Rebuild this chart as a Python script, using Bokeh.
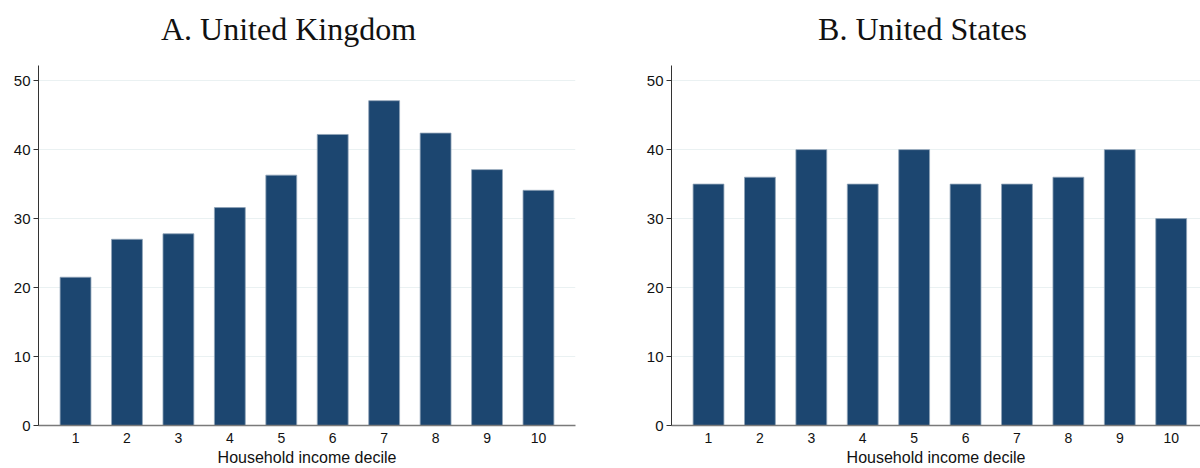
from bokeh.plotting import figure
from bokeh.layouts import row, column
from bokeh.models import FixedTicker, Range1d, ColumnDataSource
from bokeh.core.properties import value
from bokeh.embed import file_html
from bokeh.resources import INLINE

deciles = [1, 2, 3, 4, 5, 6, 7, 8, 9, 10]
uk_values = [21.5, 27.0, 27.8, 31.6, 36.3, 42.2, 47.1, 42.4, 37.1, 34.1]
us_values = [35, 36, 40, 35, 40, 35, 35, 36, 40, 30]
y_ticks = [0, 10, 20, 30, 40, 50]
titles = ["A. United Kingdom", "B. United States"]
x_label = "Household income decile"

BAR = "#1C4670"
GRID = "#EAF1F2"
TITLE_H = 65


def make_title(text, width, left_border, right_border, cx):
    frame_w = width - left_border - right_border
    t = figure(width=width, height=TITLE_H, output_backend="svg", toolbar_location=None,
               x_range=Range1d(0, frame_w), y_range=Range1d(0, TITLE_H),
               x_axis_location=None, y_axis_location=None,
               min_border_left=left_border, min_border_right=right_border,
               min_border_top=0, min_border_bottom=0)
    t.outline_line_color = None
    t.xgrid.visible = False
    t.ygrid.visible = False
    src = ColumnDataSource(dict(x=[cx], y=[TITLE_H - 28], text=[text]))
    t.text(x="x", y="y", text="text", source=src, text_align="center",
           text_baseline="middle", text_font=value("Liberation Serif"),
           text_font_size="32px", text_color="#111111")
    return t


def make(values, width, left_border, right_border, x_end):
    p = figure(width=width, height=468 - TITLE_H, output_backend="svg", toolbar_location=None,
               x_range=Range1d(0.28, x_end), y_range=Range1d(0, 52.2),
               min_border_left=left_border, min_border_right=right_border,
               min_border_top=0, min_border_bottom=42)
    p.outline_line_color = None
    p.background_fill_color = "white"
    p.border_fill_color = "white"
    p.vbar(x=deciles, top=values, width=0.6, fill_color=BAR,
           line_color="#8FA3B8", line_width=0.8)
    p.xgrid.grid_line_color = None
    p.ygrid.grid_line_color = GRID
    p.ygrid.grid_line_width = 1.2
    p.ygrid.ticker = FixedTicker(ticks=y_ticks)
    # y axis
    p.yaxis.ticker = FixedTicker(ticks=y_ticks)
    p.yaxis.minor_tick_line_color = None
    p.yaxis.major_tick_out = 5
    p.yaxis.major_tick_in = 0
    p.yaxis.axis_line_color = "#333333"
    p.yaxis.major_tick_line_color = "#333333"
    p.yaxis.major_label_text_font = "Liberation Sans"
    p.yaxis.major_label_text_font_size = "15px"
    p.yaxis.major_label_text_color = "#111111"
    p.yaxis.major_label_standoff = 3
    # x axis
    p.xaxis.ticker = FixedTicker(ticks=deciles)
    p.xaxis.minor_tick_line_color = None
    p.xaxis.major_tick_out = 0
    p.xaxis.major_tick_in = 0
    p.xaxis.axis_line_color = "#7A7A7A"
    p.xaxis.axis_line_width = 1.5
    p.xaxis.major_label_text_font = "Liberation Sans"
    p.xaxis.major_label_text_font_size = "14px"
    p.xaxis.major_label_text_color = "#111111"
    p.xaxis.major_label_standoff = 7
    p.xaxis.axis_label = x_label
    p.xaxis.axis_label_text_font = "Liberation Sans"
    p.xaxis.axis_label_text_font_size = "16px"
    p.xaxis.axis_label_text_font_style = "normal"
    p.xaxis.axis_label_text_color = "#111111"
    p.xaxis.axis_label_standoff = 3
    return p


t1 = make_title(titles[0], 631, 38, 56, 250)
p1 = make(uk_values, 631, 38, 56, 10.72)
t2 = make_title(titles[1], 569, 40, 0, 251)
p2 = make(us_values, 569, 40, 0, 10.57)
layout = row(column(t1, p1, spacing=0), column(t2, p2, spacing=0), spacing=0)

open("out.html", "w").write(file_html(layout, INLINE))
